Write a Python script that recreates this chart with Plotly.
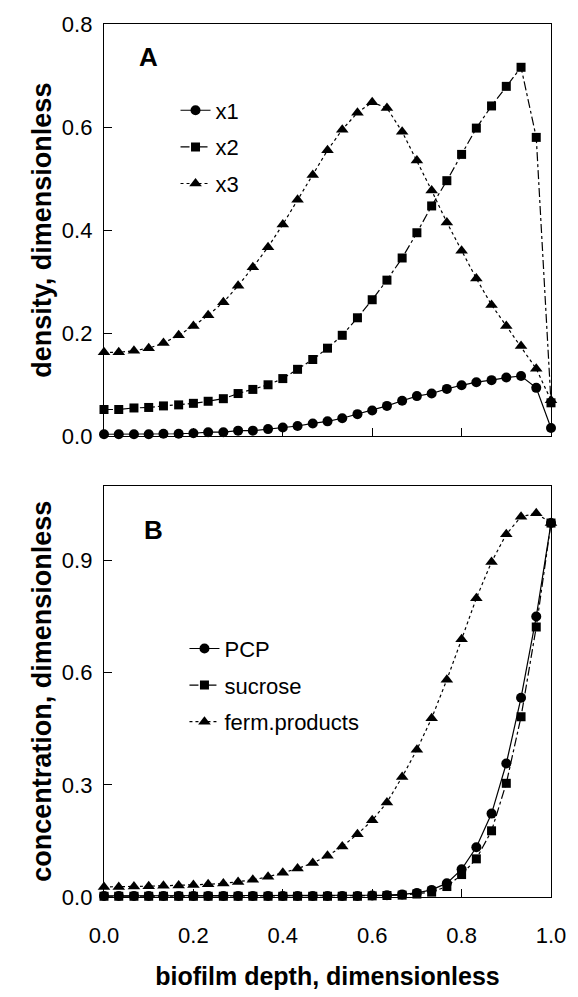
import plotly.graph_objects as go

# ---------------- data ----------------
depth = [0.000, 0.033, 0.067, 0.100, 0.133, 0.167, 0.200, 0.233, 0.267, 0.300,
         0.333, 0.367, 0.400, 0.433, 0.467, 0.500, 0.533, 0.567, 0.600, 0.633,
         0.667, 0.700, 0.733, 0.767, 0.800, 0.833, 0.867, 0.900, 0.933, 0.967, 1.000]

x1 = [0.004, 0.004, 0.004, 0.004, 0.005, 0.005, 0.006, 0.008, 0.008, 0.011,
      0.011, 0.014, 0.017, 0.020, 0.025, 0.029, 0.035, 0.043, 0.050, 0.059,
      0.069, 0.078, 0.083, 0.092, 0.099, 0.105, 0.109, 0.114, 0.117, 0.094, 0.016]
x2 = [0.052, 0.052, 0.055, 0.056, 0.059, 0.061, 0.064, 0.068, 0.073, 0.083,
      0.091, 0.100, 0.112, 0.130, 0.149, 0.171, 0.196, 0.230, 0.265, 0.303,
      0.346, 0.395, 0.447, 0.496, 0.547, 0.598, 0.641, 0.679, 0.716, 0.580, 0.065]
x3 = [0.163, 0.163, 0.166, 0.171, 0.181, 0.196, 0.214, 0.235, 0.260, 0.292,
      0.328, 0.367, 0.411, 0.459, 0.507, 0.555, 0.595, 0.628, 0.648, 0.637,
      0.591, 0.535, 0.477, 0.415, 0.360, 0.306, 0.255, 0.214, 0.175, 0.131, 0.070]

pcp = [0.003, 0.003, 0.003, 0.003, 0.003, 0.003, 0.003, 0.003, 0.003, 0.003,
       0.003, 0.003, 0.003, 0.003, 0.003, 0.003, 0.003, 0.003, 0.004, 0.005,
       0.007, 0.011, 0.019, 0.037, 0.074, 0.133, 0.223, 0.357, 0.533, 0.750, 1.000]
sucrose = [0.002, 0.002, 0.002, 0.002, 0.002, 0.002, 0.002, 0.002, 0.002, 0.002,
           0.002, 0.002, 0.002, 0.002, 0.002, 0.002, 0.002, 0.002, 0.003, 0.004,
           0.005, 0.008, 0.013, 0.028, 0.060, 0.102, 0.177, 0.304, 0.482, 0.722, 1.000]
ferm = [0.027, 0.027, 0.028, 0.029, 0.030, 0.031, 0.032, 0.034, 0.036, 0.040,
        0.046, 0.054, 0.065, 0.076, 0.091, 0.110, 0.135, 0.168, 0.205, 0.253,
        0.321, 0.394, 0.478, 0.581, 0.689, 0.799, 0.896, 0.970, 1.017, 1.026, 1.000]

panel_a_names = ["x1", "x2", "x3"]
panel_b_names = ["PCP", "sucrose", "ferm.products"]
x_ticks = [0.0, 0.2, 0.4, 0.6, 0.8, 1.0]
ya_ticks = [0.0, 0.2, 0.4, 0.6, 0.8]
yb_ticks = [0.0, 0.3, 0.6, 0.9]

# ---------------- styling ----------------
styles = [
    dict(dash="solid", symbol="circle", size=10),
    dict(dash="dashdot", symbol="square", size=9),
    dict(dash="dot", symbol="triangle-up", size=11),
]
FONT = "Liberation Sans, Arial, sans-serif"

fig = go.Figure()

for name, ys, st in zip(panel_a_names, [x1, x2, x3], styles):
    fig.add_trace(go.Scatter(
        x=depth, y=ys, name=name, mode="lines+markers",
        line=dict(color="black", width=1.2, dash=st["dash"]),
        marker=dict(color="black", symbol=st["symbol"], size=st["size"]),
        xaxis="x", yaxis="y", legend="legend", legendgroup=name,
        cliponaxis=False,
    ))

for name, ys, st in zip(panel_b_names, [pcp, sucrose, ferm], styles):
    fig.add_trace(go.Scatter(
        x=depth, y=ys, name=name, mode="lines+markers",
        line=dict(color="black", width=1.2, dash=st["dash"]),
        marker=dict(color="black", symbol=st["symbol"], size=st["size"]),
        xaxis="x2", yaxis="y2", legend="legend2", legendgroup=name,
        cliponaxis=False,
    ))

axis_common = dict(
    showline=True, linecolor="black", linewidth=1.3, mirror=True,
    ticks="inside", ticklen=8, tickwidth=1.2, tickcolor="black",
    showgrid=False, zeroline=False,
    tickfont=dict(family=FONT, size=22, color="black"),
)

fig.update_layout(
    width=578, height=997,
    margin=dict(l=104, r=18, t=22, b=90),
    paper_bgcolor="white", plot_bgcolor="white",
    showlegend=True,
    xaxis=dict(domain=[0, 1], range=[0, 1], tickvals=x_ticks, showticklabels=False,
               anchor="y", **axis_common),
    yaxis=dict(domain=[0.5277, 1.0], range=[0, 0.8], tickvals=ya_ticks,
               tickformat=".1f", anchor="x", ticklabelstandoff=6,
               title=dict(text="<b>density, dimensionless</b>", standoff=2,
                          font=dict(family=FONT, size=27, color="black")),
               **axis_common),
    xaxis2=dict(domain=[0, 1], range=[0, 1], tickvals=x_ticks, tickformat=".1f",
                anchor="y2", ticklabelstandoff=18,
                title=dict(text="<b>biofilm depth, dimensionless</b>", standoff=20,
                           font=dict(family=FONT, size=25, color="black")),
                **axis_common),
    yaxis2=dict(domain=[0.0, 0.4712], range=[0, 1.1], tickvals=yb_ticks,
                tickformat=".1f", anchor="x2", ticklabelstandoff=6,
                title=dict(text="<b>concentration, dimensionless</b>", standoff=2,
                           font=dict(family=FONT, size=27, color="black")),
                **axis_common),
    legend=dict(x=0.16, y=0.925, xanchor="left", yanchor="top",
                bgcolor="rgba(0,0,0,0)", tracegroupgap=5,
                font=dict(family=FONT, size=22, color="black")),
    legend2=dict(x=0.18, y=0.3085, xanchor="left", yanchor="top",
                 bgcolor="rgba(0,0,0,0)", tracegroupgap=5,
                 font=dict(family=FONT, size=22, color="black")),
    annotations=[
        dict(text="<b>A</b>", xref="x domain", yref="y domain", x=0.10, y=0.92,
             xanchor="center", yanchor="middle", showarrow=False,
             font=dict(family=FONT, size=26, color="black")),
        dict(text="<b>B</b>", xref="x2 domain", yref="y2 domain", x=0.11, y=0.892,
             xanchor="center", yanchor="middle", showarrow=False,
             font=dict(family=FONT, size=26, color="black")),
    ],
)

fig.write_html("out.html")
